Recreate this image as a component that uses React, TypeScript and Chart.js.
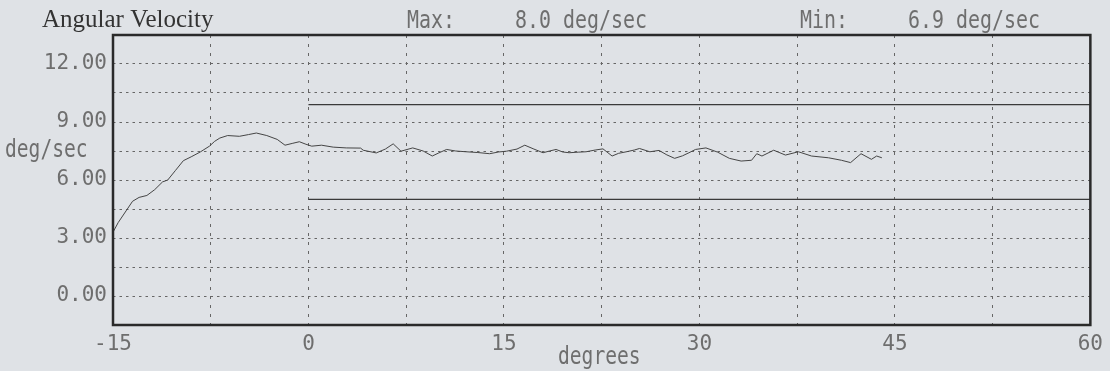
import React, { useEffect, useRef } from "react";
import { Chart, registerables } from "chart.js";

Chart.register(...registerables);

// ---- data ----
const angleDeg = [
  -15.0, -14.6, -14.0, -13.5, -13.0, -12.4, -11.8, -11.2, -10.8, -10.2, -9.6, -9.0, -8.3, -7.6, -7.2,
  -6.8, -6.2, -5.3, -4.6, -4.0, -3.2, -2.4, -1.8, -1.2, -0.7, -0.2, 0.25, 1.0, 1.9, 2.9, 4.0, 4.2,
  5.2, 5.9, 6.5, 7.1, 8.0, 8.8, 9.5, 10.0, 10.6, 11.3, 12.1, 13.0, 13.9, 14.6, 15.2, 16.0, 16.6,
  17.3, 18.0, 18.5, 19.0, 19.5, 20.0, 20.7, 21.3, 22.0, 22.6, 23.3, 23.8, 24.4, 25.0, 25.4, 26.2,
  26.9, 27.5, 28.1, 28.7, 29.2, 29.7, 30.5, 31.4, 32.3, 33.2, 34.0, 34.4, 34.8, 35.7, 36.6, 37.6,
  38.6, 39.9, 40.9, 41.6, 42.4, 43.2, 43.6, 44.0,
];
const angularVelocity = [
  3.3, 3.8, 4.4, 4.9, 5.1, 5.2, 5.5, 5.9, 6.0, 6.5, 7.0, 7.2, 7.45, 7.75, 8.0,
  8.17, 8.3, 8.26, 8.35, 8.43, 8.3, 8.1, 7.8, 7.9, 7.98, 7.85, 7.75, 7.8, 7.7, 7.66, 7.65, 7.54,
  7.4, 7.6, 7.87, 7.49, 7.66, 7.5, 7.24, 7.4, 7.58, 7.5, 7.46, 7.42, 7.36, 7.45, 7.49, 7.6, 7.8,
  7.6, 7.41, 7.5, 7.58, 7.45, 7.41, 7.44, 7.46, 7.55, 7.61, 7.24, 7.38, 7.46, 7.55, 7.63, 7.46,
  7.53, 7.3, 7.12, 7.25, 7.41, 7.58, 7.66, 7.44, 7.12, 6.98, 7.02, 7.36, 7.24, 7.54, 7.29, 7.46,
  7.24, 7.15, 7.02, 6.9, 7.36, 7.07, 7.24, 7.15,
];
const limitUpper = 9.9;
const limitLower = 5.0;
const limitStart = 0;
const limitEnd = 60;

const xMin = -15;
const xMax = 60;
const xStep = 7.5;
const xLabelEvery = 15;
const yMin = -1.5;
const yMax = 13.5;
const yStep = 1.5;
const yLabelEvery = 3;

const titleText = "Angular Velocity";
const maxText = "Max:     8.0 deg/sec";
const minText = "Min:     6.9 deg/sec";
const yUnitText = "deg/sec";
const xTitleText = "degrees";

const BG = "#dfe2e6";
const TEXT = "#6e6e6e";
const MONO = "'DejaVu Sans Mono', 'Liberation Mono', monospace";

const isMultiple = (v: number, m: number) => Math.abs(Math.round(v / m) * m - v) < 1e-6;

const decorPlugin = {
  id: "decor",
  beforeDraw(chart: any) {
    const ctx = chart.ctx;
    ctx.save();
    ctx.fillStyle = BG;
    ctx.fillRect(0, 0, chart.width, chart.height);
    ctx.restore();
  },
  afterDraw(chart: any) {
    const ctx = chart.ctx;
    const a = chart.chartArea;
    ctx.save();
    ctx.strokeStyle = "#2a2a2a";
    ctx.lineWidth = 2.5;
    ctx.strokeRect(a.left, a.top, a.right - a.left, a.bottom - a.top);

    // title (serif)
    ctx.fillStyle = "#333";
    ctx.font = "25px 'Liberation Serif', 'DejaVu Serif', serif";
    ctx.textBaseline = "alphabetic";
    ctx.textAlign = "left";
    ctx.fillText(titleText, 42, 27);

    const condensed = (txt: string, x: number, y: number, size: number, advance: number) => {
      ctx.save();
      ctx.font = `${size}px ${MONO}`;
      const sx = advance / (0.602 * size);
      ctx.translate(x, y);
      ctx.scale(sx, 1);
      ctx.fillStyle = TEXT;
      ctx.textAlign = "left";
      ctx.textBaseline = "alphabetic";
      ctx.fillText(txt, 0, 0);
      ctx.restore();
    };
    condensed(maxText, 407, 28, 24, 12);
    condensed(minText, 800, 28, 24, 12);
    condensed(yUnitText, 5, 157, 24, 11.8);
    condensed(xTitleText, 558, 364, 24, 11.8);
    ctx.restore();
  },
};

export default function App() {
  const ref = useRef<HTMLCanvasElement | null>(null);
  useEffect(() => {
    document.body.style.margin = "0";
    document.body.style.background = BG;
    const canvas = ref.current;
    if (!canvas) return;
    const mainData = angleDeg.map((x, i) => ({ x, y: angularVelocity[i] }));
    const chart = new Chart(canvas, {
      type: "line",
      data: {
        datasets: [
          {
            data: mainData,
            borderColor: "#454545",
            borderWidth: 1,
            pointRadius: 0,
            tension: 0,
          },
          {
            data: [
              { x: limitStart, y: limitUpper },
              { x: limitEnd, y: limitUpper },
            ],
            borderColor: "#3a3a3a",
            borderWidth: 1.2,
            pointRadius: 0,
          },
          {
            data: [
              { x: limitStart, y: limitLower },
              { x: limitEnd, y: limitLower },
            ],
            borderColor: "#3a3a3a",
            borderWidth: 1.2,
            pointRadius: 0,
          },
        ],
      },
      options: {
        responsive: false,
        animation: false,
        events: [],
        layout: { padding: { top: 35, right: 18, left: 0, bottom: 0 } },
        plugins: { legend: { display: false }, tooltip: { enabled: false }, title: { display: false } },
        scales: {
          x: {
            type: "linear",
            min: xMin,
            max: xMax,
            afterFit: (s: any) => {
              s.height = 46;
            },
            afterBuildTicks: (s: any) => {
              const t = [];
              for (let v = xMin; v <= xMax + 1e-9; v += xStep) t.push({ value: v });
              s.ticks = t;
            },
            ticks: {
              autoSkip: false,
              maxRotation: 0,
              padding: 7,
              color: TEXT,
              font: { family: MONO, size: 21 },
              callback: (v: any) => (isMultiple(Number(v), xLabelEvery) ? String(Math.round(Number(v))) : ""),
            },
            grid: { color: "#666", lineWidth: 1, drawTicks: false },
            border: { display: false, dash: [3, 6] },
          },
          y: {
            type: "linear",
            min: yMin,
            max: yMax,
            afterFit: (s: any) => {
              s.width = 113;
            },
            afterBuildTicks: (s: any) => {
              const t = [];
              for (let v = yMin; v <= yMax + 1e-9; v += yStep) t.push({ value: Math.round(v * 10) / 10 });
              s.ticks = t;
            },
            ticks: {
              autoSkip: false,
              padding: 6,
              color: TEXT,
              font: { family: MONO, size: 21 },
              callback: (v: any) => {
                const n = Number(v);
                return isMultiple(n, yLabelEvery) && n >= 0 && n <= 12 ? n.toFixed(2) : "";
              },
            },
            grid: { color: "#666", lineWidth: 1, drawTicks: false },
            border: { display: false, dash: [2.5, 4] },
          },
        },
      },
      plugins: [decorPlugin],
    } as any);
    return () => chart.destroy();
  }, []);
  return (
    <div style={{ width: 1110, height: 371, background: BG }}>
      <canvas ref={ref} width={1110} height={371} style={{ display: "block", width: 1110, height: 371 }} />
    </div>
  );
}
